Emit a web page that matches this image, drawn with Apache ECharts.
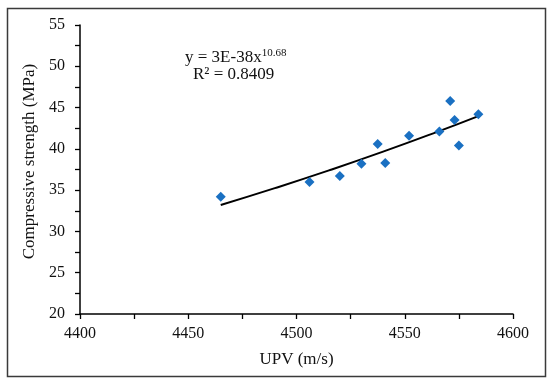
<!DOCTYPE html>
<html>
<head>
<meta charset="utf-8">
<script src="https://cdn.jsdelivr.net/npm/echarts@6/dist/echarts.min.js"></script>
<style>
html,body{margin:0;padding:0;background:#fff;}
#c{width:550px;height:382px;}
</style>
</head>
<body>
<div id="c"></div>
<script>
// Measured points: UPV (m/s) and compressive strength (MPa)
var upv = [4465, 4506, 4520, 4530, 4541, 4537.5, 4552, 4566, 4571, 4573, 4575, 4584];
var strength = [34.2, 36.0, 36.7, 38.2, 38.3, 40.6, 41.6, 42.1, 45.8, 43.5, 40.4, 44.2];
// Trend line (power fit y = 3E-38x^10.68)
var trendX = [4465, 4490, 4515, 4540, 4565, 4584];
var trendY = [33.2, 35.24, 37.39, 39.66, 42.06, 43.97];
var xTicks = [4400, 4450, 4500, 4550, 4600];
var yTicks = [20, 25, 30, 35, 40, 45, 50, 55];
var equationText = 'y = 3E-38x';
var exponentText = '10.68';
var r2Text = 'R² = 0.8409';

var font = "'Liberation Serif', 'Times New Roman', serif";
var ink = '#111';

var pts = upv.map(function (x, i) { return [x, strength[i]]; });
var trend = trendX.map(function (x, i) { return [x, trendY[i]]; });

var chart = echarts.init(document.getElementById('c'), null, { renderer: 'canvas' });
chart.setOption({
  animation: false,
  backgroundColor: '#fff',
  grid: { left: 80, right: 37, top: 25, bottom: 68, containLabel: false },
  xAxis: {
    type: 'value',
    min: xTicks[0], max: xTicks[xTicks.length - 1], interval: 50,
    name: 'UPV (m/s)', nameLocation: 'middle', nameGap: 37,
    nameTextStyle: { fontFamily: font, fontSize: 17, color: ink },
    axisLine: { lineStyle: { color: '#000', width: 1.5 } },
    axisTick: { show: true, length: 5, lineStyle: { color: '#000', width: 1.3 } },
    minorTick: { show: true, splitNumber: 2, length: 5, lineStyle: { color: '#000', width: 1.3 } },
    axisLabel: { fontFamily: font, fontSize: 16, color: ink, margin: 12,
      formatter: function (v) { return String(v); } },
    splitLine: { show: false }
  },
  yAxis: {
    type: 'value',
    min: yTicks[0], max: yTicks[yTicks.length - 1], interval: 5,
    name: 'Compressive strength (MPa)', nameLocation: 'middle', nameGap: 40,
    nameTextStyle: { fontFamily: font, fontSize: 17, color: ink, padding: [0, 0, 0, 16] },
    axisLine: { show: true, lineStyle: { color: '#000', width: 1.5 } },
    axisTick: { show: true, length: 5, lineStyle: { color: '#000', width: 1.3 } },
    minorTick: { show: true, splitNumber: 2, length: 5, lineStyle: { color: '#000', width: 1.3 } },
    axisLabel: { fontFamily: font, fontSize: 16, color: ink, margin: 15,
      formatter: function (v) { return String(v); } },
    splitLine: { show: false }
  },
  series: [
    {
      type: 'line', data: trend, smooth: true, showSymbol: false, symbol: 'none',
      lineStyle: { color: '#000', width: 2 }, z: 2
    },
    {
      type: 'scatter', data: pts, symbol: 'diamond', symbolSize: 10,
      itemStyle: { color: '#1a70c2', opacity: 1 }, z: 3
    }
  ],
  graphic: [
    {
      type: 'rect', left: 5, top: 6, z: -1,
      shape: { width: 538, height: 368 },
      style: { fill: 'none', stroke: '#3a3a3a', lineWidth: 1.5 }
    },
    {
      type: 'text', left: 185, top: 48,
      style: {
        text: '{a|' + equationText + '}{s|' + exponentText + '}',
        rich: {
          a: { fontFamily: font, fontSize: 17, fill: ink, lineHeight: 20 },
          s: { fontFamily: font, fontSize: 11, fill: ink, lineHeight: 11, verticalAlign: 'top' }
        }
      }
    },
    {
      type: 'text', left: 193, top: 66,
      style: { text: r2Text, fontFamily: font, fontSize: 17, fill: ink }
    }
  ]
});
</script>
</body>
</html>
